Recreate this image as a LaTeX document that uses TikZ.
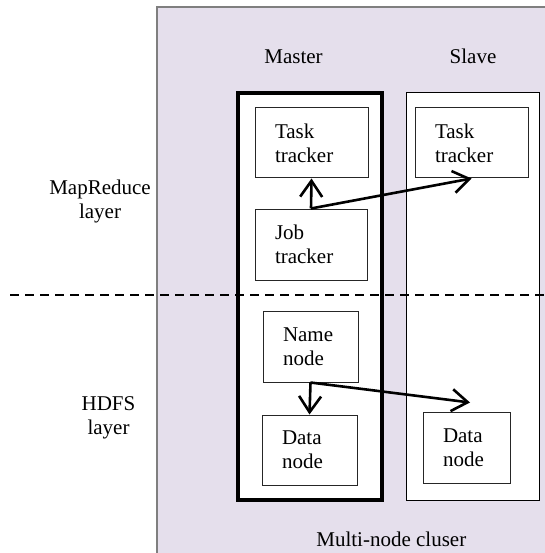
\documentclass[tikz,border=0pt]{standalone}
\usepackage{fontspec}
\setmainfont{Liberation Serif}
\usetikzlibrary{arrows.meta}
\definecolor{clusterfill}{HTML}{E5DFEC}
\definecolor{clusteredge}{HTML}{7F7F7F}
\tikzset{
  txt/.style={font=\fontsize{21}{24}\selectfont, inner sep=0pt},
  hostbox/.style={draw=black, fill=white, inner sep=0pt},
  unit/.style={draw=black!85, fill=white, line width=1pt, inner ysep=0pt, inner xsep=0pt,
    align=left, font=\fontsize{21}{24}\selectfont},
  link/.style={line width=2.6pt, -{Straight Barb[length=16pt,width=22pt,line width=2.6pt]}},
  layerline/.style={line width=2pt, dash pattern=on 9pt off 6pt}
}
\begin{document}
\begin{tikzpicture}[x=1pt,y=-1pt]
\useasboundingbox (0,0) rectangle (544,553);

% cluster background
\fill[clusterfill, draw=clusteredge, line width=1.2pt] (157,7) rectangle (580,590);

% host columns
\node[hostbox, line width=4pt, minimum width=144pt, minimum height=407pt] (master) at (310,296.5) {};
\node[hostbox, line width=1pt, minimum width=133pt, minimum height=407pt] (slave) at (472.5,296.5) {};

% layer separator
\coordinate (sepL) at (10,295);
\coordinate (sepR) at (544,295);
\draw[layerline] (sepL) -- (sepR);

% column and layer captions
\node[txt, anchor=base] (mlabel) at (293.5,64) {Master};
\node[txt, anchor=base] (slabel) at (473,64) {Slave};
\node[txt, align=center] (mrlayer) at (100,201) {MapReduce\\layer};
\node[txt, align=center] (hdfslayer) at (108.5,418) {HDFS\\layer};
\node[txt, anchor=base] (cluster) at (391.3,546.7) {Multi-node cluser};

% daemons
\node[unit, minimum width=113pt, minimum height=70pt, text width=73pt] (mtask) at (311.5,143) {Task\\tracker};
\node[unit, minimum width=113pt, minimum height=70pt, text width=73pt] (stask) at (471.5,143) {Task\\tracker};
\node[unit, minimum width=112pt, minimum height=71pt, text width=72pt] (job) at (311,244.5) {Job\\tracker};
\node[unit, minimum width=95pt, minimum height=71pt, text width=55pt] (name) at (310.5,346.5) {Name\\node};
\node[unit, minimum width=95pt, minimum height=70pt, text width=55pt] (mdata) at (309.5,450) {Data\\node};
\node[unit, minimum width=87pt, minimum height=71pt, text width=47pt] (sdata) at (466.5,447.5) {Data\\node};

% communication
\coordinate (sdatain) at ([shift={(3.5,-9)}]sdata.north);
\draw[link] (job.north) -- (mtask.south);
\draw[link] (job.north) -- (stask.south);
\draw[link] (name.south) -- (mdata.north);
\draw[link] (name.south) -- (sdatain);
\end{tikzpicture}
\end{document}
